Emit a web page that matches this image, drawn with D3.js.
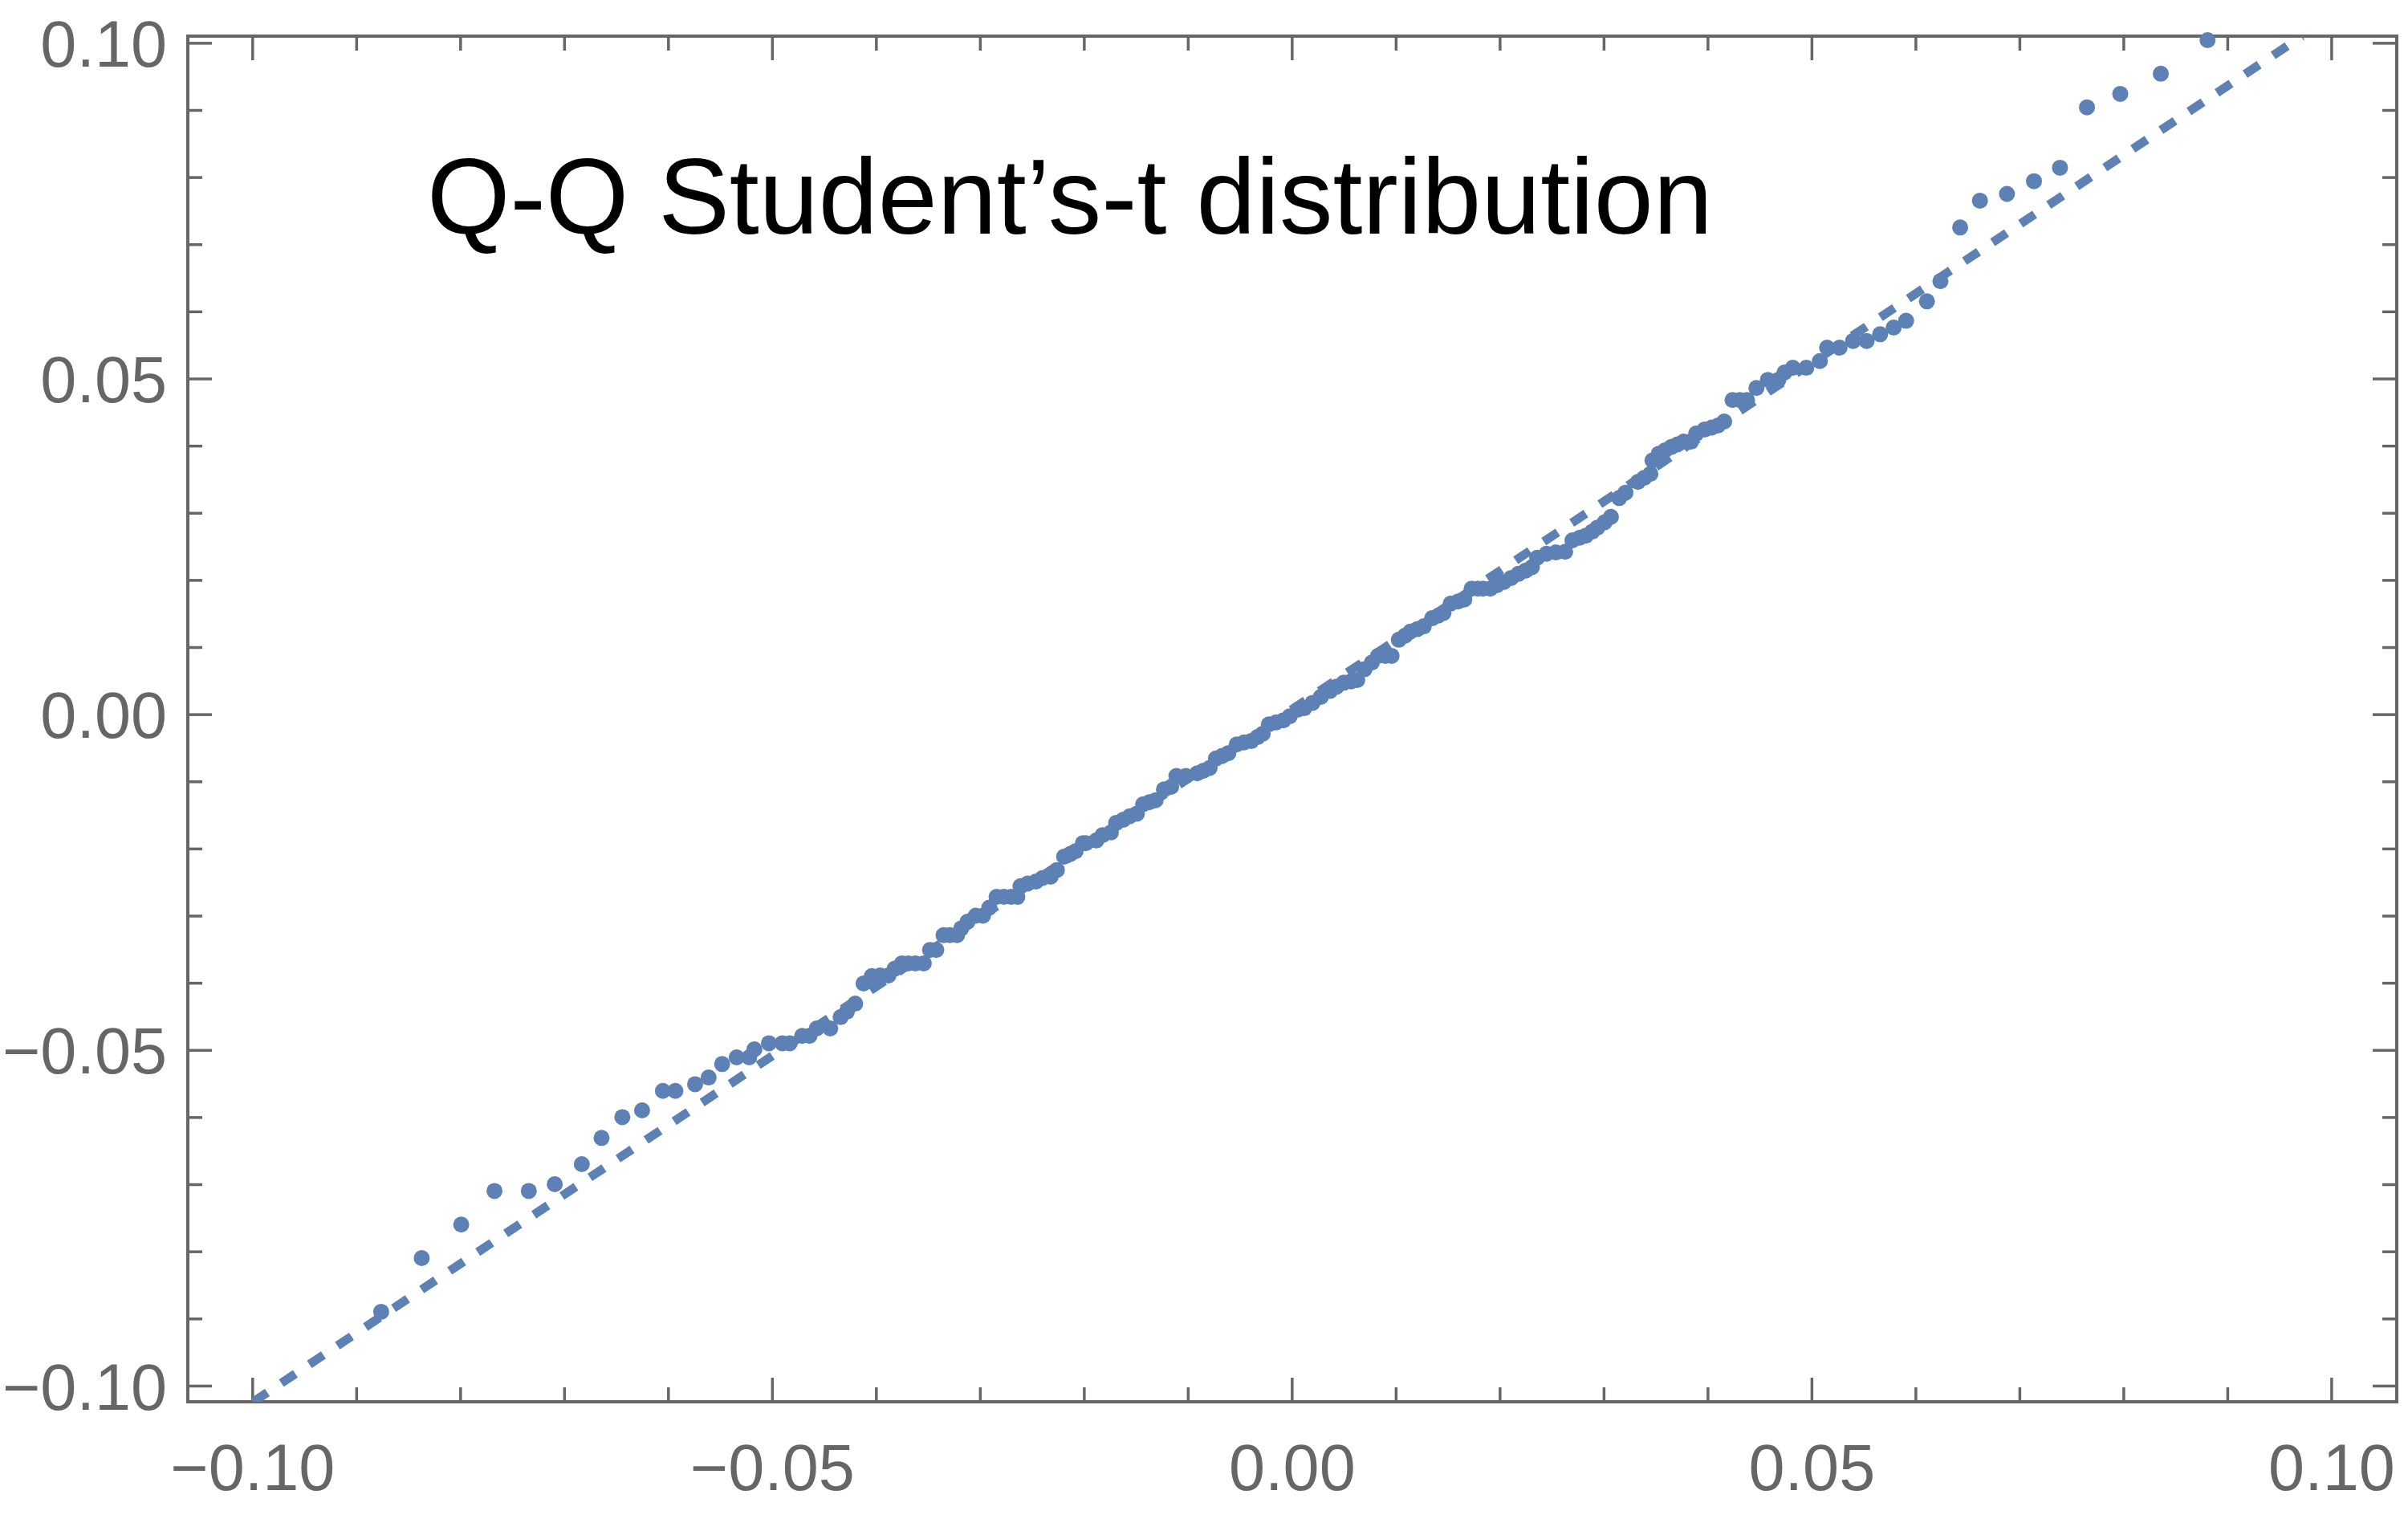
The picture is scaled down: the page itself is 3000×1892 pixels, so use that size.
<!DOCTYPE html>
<html><head><meta charset="utf-8">
<script src="https://cdn.jsdelivr.net/npm/d3@7"></script>
<style>html,body{margin:0;padding:0;background:#fff;} svg{display:block;}</style>
</head><body>
<svg id="chart" width="3000" height="1892"></svg>
<script>
// Sample quantiles vs theoretical Student's-t quantiles
const qqX = [
-0.0876,-0.0837,-0.0799,-0.0767,-0.0734,-0.0709,-0.0683,-0.0664,-0.0644,-0.0625,
-0.0605,-0.0593,-0.0574,-0.0561,-0.0548,-0.0534,-0.0522,-0.0517,-0.0503,-0.0490,
-0.0483,-0.0471,-0.0464,-0.0457,-0.0444,-0.0434,-0.0428,-0.0420,-0.0412,-0.0404,
-0.0396,-0.0388,-0.0382,-0.0375,-0.0369,-0.0362,-0.0354,-0.0348,-0.0342,-0.0335,
-0.0329,-0.0322,-0.0318,-0.0312,-0.0304,-0.0297,-0.0291,-0.0284,-0.0277,-0.0270,
-0.0264,-0.0261,-0.0254,-0.0246,-0.0240,-0.0232,-0.0226,-0.0219,-0.0213,-0.0208,
-0.0201,-0.0198,-0.0188,-0.0182,-0.0174,-0.0169,-0.0162,-0.0156,-0.0149,-0.0143,
-0.0137,-0.0131,-0.0123,-0.0116,-0.0111,-0.0102,-0.0091,-0.0085,-0.0079,-0.0073,
-0.0067,-0.0061,-0.0053,-0.0046,-0.0039,-0.0033,-0.0028,-0.0022,-0.0015,-0.0008,
-0.0002,0.0006,0.0012,0.0020,0.0028,0.0037,0.0043,0.0050,0.0057,0.0063,
0.0070,0.0077,0.0083,0.0090,0.0096,0.0103,0.0109,0.0114,0.0121,0.0127,
0.0135,0.0141,0.0146,0.0153,0.0160,0.0166,0.0173,0.0179,0.0184,0.0191,
0.0197,0.0204,0.0211,0.0218,0.0225,0.0231,0.0236,0.0245,0.0254,0.0263,
0.0270,0.0277,0.0283,0.0289,0.0294,0.0301,0.0307,0.0315,0.0321,0.0333,
0.0339,0.0345,0.0347,0.0353,0.0359,0.0365,0.0371,0.0377,0.0384,0.0389,
0.0397,0.0404,0.0410,0.0416,0.0424,0.0431,0.0438,0.0447,0.0458,0.0468,
0.0474,0.0482,0.0495,0.0508,0.0515,0.0527,0.0540,0.0553,0.0566,0.0579,
0.0591,0.0611,0.0624,0.0643,0.0662,0.0688,0.0714,0.0739,0.0765,0.0797,
0.0836,0.0881
];
const qqY = [
-0.0890,-0.0810,-0.0760,-0.0710,-0.0710,-0.0700,-0.0670,-0.0631,-0.0600,-0.0590,
-0.0561,-0.0561,-0.0551,-0.0541,-0.0521,-0.0511,-0.0511,-0.0499,-0.0490,-0.0490,
-0.0490,-0.0479,-0.0479,-0.0468,-0.0468,-0.0451,-0.0443,-0.0431,-0.0401,-0.0390,
-0.0389,-0.0389,-0.0379,-0.0371,-0.0371,-0.0371,-0.0371,-0.0351,-0.0351,-0.0329,
-0.0329,-0.0329,-0.0319,-0.0309,-0.0300,-0.0300,-0.0288,-0.0272,-0.0272,-0.0272,
-0.0272,-0.0256,-0.0252,-0.0249,-0.0244,-0.0242,-0.0232,-0.0212,-0.0208,-0.0204,
-0.0192,-0.0192,-0.0188,-0.0180,-0.0176,-0.0162,-0.0157,-0.0152,-0.0148,-0.0134,
-0.0131,-0.0128,-0.0112,-0.0108,-0.0092,-0.0092,-0.0088,-0.0084,-0.0080,-0.0066,
-0.0062,-0.0058,-0.0045,-0.0042,-0.0040,-0.0034,-0.0029,-0.0015,-0.0012,-0.0009,
-0.0003,0.0007,0.0009,0.0017,0.0026,0.0035,0.0041,0.0047,0.0049,0.0051,
0.0067,0.0077,0.0087,0.0087,0.0087,0.0111,0.0117,0.0123,0.0127,0.0131,
0.0143,0.0147,0.0151,0.0165,0.0168,0.0171,0.0187,0.0187,0.0187,0.0187,
0.0192,0.0197,0.0203,0.0209,0.0214,0.0219,0.0233,0.0239,0.0241,0.0242,
0.0259,0.0263,0.0266,0.0272,0.0278,0.0286,0.0294,0.0322,0.0330,0.0346,
0.0352,0.0358,0.0378,0.0388,0.0393,0.0398,0.0402,0.0406,0.0406,0.0418,
0.0424,0.0427,0.0430,0.0436,0.0468,0.0468,0.0468,0.0486,0.0498,0.0498,
0.0509,0.0516,0.0516,0.0526,0.0546,0.0546,0.0556,0.0556,0.0566,0.0576,
0.0586,0.0615,0.0645,0.0725,0.0765,0.0775,0.0794,0.0814,0.0904,0.0924,
0.0954,0.1004
];
// Reference (fitted) line y = refSlope * x + refIntercept
const refSlope = 1.032;
const refIntercept = 0.0007;

const xMajorTicks = [-0.10, -0.05, 0.00, 0.05, 0.10];
const xTickLabels = ["\u22120.10", "\u22120.05", "0.00", "0.05", "0.10"];
const yMajorTicks = [-0.10, -0.05, 0.00, 0.05, 0.10];
const yTickLabels = ["\u22120.10", "\u22120.05", "0.00", "0.05", "0.10"];
const minorTicks = [-0.09,-0.08,-0.07,-0.06,-0.04,-0.03,-0.02,-0.01,0.01,0.02,0.03,0.04,0.06,0.07,0.08,0.09];
const chartTitle = "Q-Q Student\u2019s-t distribution";

const xDomain = [-0.1062, 0.1063];
const yDomain = [-0.1024, 0.1010];

const L = 234, R = 2986, T = 45, B = 1746;
const blue = "#5E81B5", gray = "#666666";
const font = "'Liberation Sans', Arial, sans-serif";

const svg = d3.select("#chart");
const x = d3.scaleLinear().domain(xDomain).range([L, R]);
const y = d3.scaleLinear().domain(yDomain).range([B, T]);

svg.append("defs").append("clipPath").attr("id", "plotClip")
  .append("rect").attr("x", L).attr("y", T).attr("width", R - L).attr("height", B - T);

function styleAxis(g, withLabels) {
  g.select(".domain").remove();
  g.selectAll(".tick line").attr("stroke", gray).attr("stroke-width", 3.5);
  g.selectAll(".tick text").attr("fill", gray).attr("font-family", font).attr("font-size", 81);
  if (!withLabels) g.selectAll(".tick text").remove();
}

// Bottom axis
const gB = svg.append("g").attr("transform", `translate(0,${B})`);
gB.append("g").call(d3.axisBottom(x).tickValues(minorTicks).tickSize(-18).tickFormat(""))
  .call(g => styleAxis(g, false));
gB.append("g").call(d3.axisBottom(x).tickValues(xMajorTicks).tickSize(-30)
  .tickFormat((d, i) => xTickLabels[i]))
  .call(g => styleAxis(g, true))
  .call(g => g.selectAll(".tick text").attr("y", 110).attr("dy", 0));

// Top axis
const gT = svg.append("g").attr("transform", `translate(0,${T})`);
gT.append("g").call(d3.axisTop(x).tickValues(minorTicks).tickSize(-18).tickFormat("")).call(g => styleAxis(g, false));
gT.append("g").call(d3.axisTop(x).tickValues(xMajorTicks).tickSize(-30).tickFormat("")).call(g => styleAxis(g, false));

// Left axis
const gL = svg.append("g").attr("transform", `translate(${L},0)`);
gL.append("g").call(d3.axisLeft(y).tickValues(minorTicks).tickSize(-18).tickFormat("")).call(g => styleAxis(g, false));
gL.append("g").call(d3.axisLeft(y).tickValues(yMajorTicks).tickSize(-30)
  .tickFormat((d, i) => yTickLabels[i]))
  .call(g => styleAxis(g, true))
  .call(g => g.selectAll(".tick text").attr("x", -26).attr("dy", "0.36em"));

// Right axis
const gR = svg.append("g").attr("transform", `translate(${R},0)`);
gR.append("g").call(d3.axisRight(y).tickValues(minorTicks).tickSize(-18).tickFormat("")).call(g => styleAxis(g, false));
gR.append("g").call(d3.axisRight(y).tickValues(yMajorTicks).tickSize(-30).tickFormat("")).call(g => styleAxis(g, false));

// Frame
svg.append("rect").attr("x", L).attr("y", T).attr("width", R - L).attr("height", B - T)
  .attr("fill", "none").attr("stroke", gray).attr("stroke-width", 4);

// Reference dashed line, from the bottom edge to the top edge of the plot range
const lx0 = Math.max(xDomain[0], (yDomain[0] - refIntercept) / refSlope);
const lx1 = Math.min(xDomain[1], (yDomain[1] - refIntercept) / refSlope);
const refPts = [[lx0, refSlope * lx0 + refIntercept], [lx1, refSlope * lx1 + refIntercept]];
svg.append("path")
  .attr("clip-path", "url(#plotClip)")
  .attr("d", d3.line().x(d => x(d[0])).y(d => y(d[1]))(refPts))
  .attr("fill", "none").attr("stroke", blue).attr("stroke-width", 11)
  .attr("stroke-dasharray", "21 21");

// Points
svg.append("g").selectAll("circle").data(qqX.map((v, i) => [v, qqY[i]])).join("circle")
  .attr("cx", d => x(d[0])).attr("cy", d => y(d[1])).attr("r", 10).attr("fill", blue);

// Title
svg.append("text").attr("x", 532).attr("y", 291)
  .attr("font-family", font).attr("font-size", 133).attr("fill", "#000")
  .text(chartTitle);
</script>
</body></html>
